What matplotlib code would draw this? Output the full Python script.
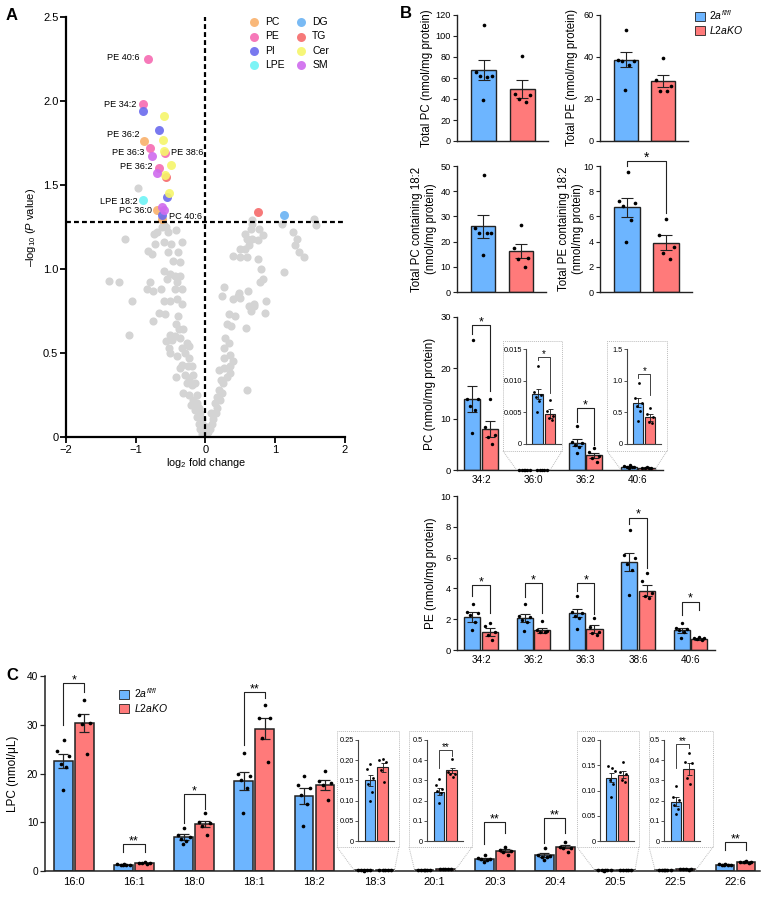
import numpy as np
import matplotlib.pyplot as plt
from matplotlib.lines import Line2D
from matplotlib.patches import Patch, Rectangle

plt.rcParams['font.family'] = ['Liberation Sans', 'DejaVu Sans']
plt.rcParams['mathtext.fontset'] = 'custom'
plt.rcParams['mathtext.rm'] = 'Liberation Sans'
plt.rcParams['mathtext.it'] = 'Liberation Sans:italic'

W, H = 767, 898
BLUE, RED, INK = '#6DB5FF', '#FF7A7A', '#222222'
BOXC = '#BDBDBD'

# ---------------- panel A: volcano ----------------
gray_x = [-0.97, -1.16, -1.38, -1.24, -1.06, -1.09, -0.83, -0.77, -0.72, -0.74, -0.69, -0.63, -0.57, -0.43,
          -0.33, -0.60, -0.50, -0.54, -0.40, -0.46, -0.37, -0.60, -0.51, -0.55, -0.44, -0.37, -0.79, -0.84,
          -0.75, -0.64, -0.41, -0.44, -0.34, -0.60, -0.51, -0.41, -0.34, -0.66, -0.58, -0.39, -0.75, -0.43,
          -0.38, -0.32, -0.51, -0.44, -0.56, -0.48, -0.36, -0.27, -0.24, -0.53, -0.34, -0.51, -0.29, -0.41,
          -0.24, -0.33, -0.25, -0.36, -0.20, -0.29, -0.43, -0.23, -0.18, -0.27, -0.20, -0.15, -0.32, -0.23,
          -0.12, -0.18, -0.12, -0.21, -0.10, -0.15, -0.08, -0.12, -0.05, -0.10, -0.04, -0.08, -0.02, -0.05,
          0.00, 0.03, 0.06, 0.09, 0.02, 0.11, 0.08, 0.15, 0.17, 0.14, 0.21, 0.16, 0.23, 0.19, 0.25, 0.22,
          0.31, 0.20, 0.26, 0.35, 0.35, 0.39, 0.27, 0.35, 0.26, 0.33, 0.28, 0.59, 0.31, 0.37, 0.33, 0.42,
          0.58, 0.39, 0.46, 0.50, 0.48, 0.61, 0.26, 0.24, 0.62, 0.69, 0.65, 0.70, 0.87, 0.85, 0.78, 0.82,
          0.80, 0.75, 0.59, 0.49, 0.40, 0.50, 0.57, 0.62, 0.59, 0.67, 0.75, 0.82, 0.57, 0.65, 0.77, 0.67,
          0.67, 1.10, 1.25, 1.31, 1.28, 1.34, 1.41, 1.13, 1.56, 1.58, -0.60, -0.54, -0.62]
gray_y = [1.48, 1.18, 0.93, 0.92, 0.81, 0.61, 1.11, 1.09, 1.15, 1.21, 1.22, 1.25, 1.25, 1.23,
          1.16, 1.16, 1.15, 1.10, 1.10, 1.05, 1.04, 0.99, 0.97, 0.94, 0.96, 0.96, 0.92, 0.88,
          0.87, 0.88, 0.92, 0.88, 0.88, 0.81, 0.81, 0.82, 0.79, 0.74, 0.73, 0.72, 0.69, 0.67,
          0.64, 0.64, 0.61, 0.60, 0.57, 0.58, 0.59, 0.56, 0.54, 0.53, 0.53, 0.50, 0.50, 0.48,
          0.47, 0.43, 0.42, 0.41, 0.42, 0.37, 0.36, 0.35, 0.37, 0.32, 0.31, 0.32, 0.26, 0.25,
          0.25, 0.22, 0.20, 0.19, 0.17, 0.16, 0.14, 0.12, 0.11, 0.08, 0.07, 0.05, 0.04, 0.02,
          0.02, 0.03, 0.05, 0.08, 0.06, 0.11, 0.14, 0.14, 0.17, 0.20, 0.22, 0.24, 0.26, 0.28, 0.32, 0.34,
          0.36, 0.40, 0.41, 0.38, 0.42, 0.45, 0.47, 0.49, 0.53, 0.56, 0.59, 0.28, 0.67, 0.66, 0.73, 0.72,
          0.65, 0.82, 0.84, 0.83, 0.86, 0.87, 0.89, 0.84, 0.78, 0.78, 0.75, 0.79, 0.81, 0.74, 0.92, 0.94,
          1.00, 1.06, 1.07, 1.07, 1.08, 1.12, 1.12, 1.14, 1.18, 1.18, 1.17, 1.20, 1.21, 1.24, 1.24, 1.27,
          1.29, 1.27, 1.22, 1.18, 1.14, 1.10, 1.07, 0.98, 1.30, 1.26, 1.26, 1.22, 1.29]
hit_x = [-0.82, -0.89, -0.89, -0.59, -0.67, -0.88, -0.61, -0.79, -0.59, -0.58, -0.76, -0.50, -0.67,
         -0.70, -0.58, -0.56, -0.52, -0.55, -0.89, -0.62, -0.69, -0.59, -0.62, -0.63, 0.75, 1.12]
hit_y = [2.25, 1.98, 1.94, 1.91, 1.83, 1.76, 1.77, 1.72, 1.70, 1.69, 1.67, 1.62, 1.60,
         1.57, 1.56, 1.55, 1.45, 1.43, 1.41, 1.37, 1.35, 1.35, 1.32, 1.30, 1.34, 1.32]
hit_class = ['PE', 'PE', 'PI', 'Cer', 'PI', 'PC', 'Cer', 'PE', 'Cer', 'PE', 'SM', 'Cer', 'PE',
             'SM', 'Cer', 'TG', 'Cer', 'PI', 'LPE', 'SM', 'PC', 'SM', 'PI', 'PC', 'TG', 'DG']
class_names = ['PC', 'PE', 'PI', 'LPE', 'DG', 'TG', 'Cer', 'SM']
class_colors = ['#F9B16C', '#F66BB2', '#6B6BEE', '#6EF3F6', '#6BB3F3', '#F66B6B', '#F6F66B', '#CF6BEE']
a_labels = ['PE 40:6', 'PE 34:2', 'PE 36:2', 'PE 36:3', 'PE 38:6', 'PE 36:2', 'LPE 18:2', 'PC 36:0', 'PC 40:6']
a_label_x = [-0.94, -0.99, -0.95, -0.87, -0.50, -0.76, -0.98, -0.76, -0.53]
a_label_y = [2.26, 1.98, 1.80, 1.695, 1.695, 1.61, 1.40, 1.35, 1.31]
a_label_ha = ['right', 'right', 'right', 'right', 'left', 'right', 'right', 'right', 'left']
p_cut = 1.28

# ---------------- panel B: totals ----------------
tot_pc_mean, tot_pc_sem = [67.5, 49.5], [9.5, 8.2]
tot_pc_pts = [[110, 66, 62, 62, 61, 39], [81, 45, 44, 40, 37]]
tot_pe_mean, tot_pe_sem = [38.6, 28.5], [3.6, 3.0]
tot_pe_pts = [[53, 38.5, 38, 38, 36, 24.5], [39.5, 29, 26, 24, 24]]
pc182_mean, pc182_sem = [26.0, 16.2], [4.4, 2.8]
pc182_pts = [[46.5, 25.5, 23.5, 23.5, 23.5, 14.5], [26.5, 17.5, 13.5, 13, 10]]
pe182_mean, pe182_sem = [6.72, 3.9], [0.74, 0.6]
pe182_pts = [[9.5, 7.2, 7.1, 6.8, 5.7, 4.0], [5.8, 4.55, 3.6, 3.1, 2.6]]

# ---------------- panel B: PC species ----------------
pc_cats = ['34:2', '36:0', '36:2', '40:6']
pc_blue_mean = [13.9, 0.0079, 5.35, 0.65]
pc_blue_sem = [2.5, 0.0008, 0.65, 0.07]
pc_red_mean = [8.05, 0.0048, 2.85, 0.42]
pc_red_sem = [1.65, 0.0007, 0.5, 0.05]
pc_blue_pts = [[25.5, 14.0, 13.9, 12.5, 11.8, 7.2], [0.0123, 0.0082, 0.0078, 0.0075, 0.0068, 0.005],
               [8.7, 5.5, 5.2, 5.0, 4.5, 3.4], [0.97, 0.72, 0.65, 0.6, 0.52, 0.37]]
pc_red_pts = [[14, 8.5, 6.8, 6.5, 5.1], [0.0069, 0.0052, 0.0045, 0.0041, 0.0038],
              [4.3, 3.6, 2.8, 2.3, 1.6], [0.57, 0.47, 0.42, 0.35, 0.33]]
pc_brackets = [(0, 28.4, 26.7, 15.4, '*'), (2, 12.1, 9.5, 4.9, '*')]
pc_insets = [1, 3]
pc_inset_ymax = [0.015, 1.5]
pc_inset_ticks = [[0, 0.005, 0.010, 0.015], [0, 0.5, 1.0, 1.5]]
pc_inset_labels = [['0', '0.005', '0.010', '0.015'], ['0', '0.5', '1.0', '1.5']]
pc_inset_brackets = [(0.0137, 0.0133, 0.008, '*'), (1.1, 1.05, 0.77, '*')]

# ---------------- panel B: PE species ----------------
pe_cats = ['34:2', '36:2', '36:3', '38:6', '40:6']
pe_blue_mean = [2.17, 2.06, 2.39, 5.72, 1.27]
pe_blue_sem = [0.33, 0.26, 0.26, 0.6, 0.15]
pe_red_mean = [1.18, 1.27, 1.35, 3.85, 0.71]
pe_red_sem = [0.26, 0.19, 0.26, 0.37, 0.06]
pe_blue_pts = [[3.0, 2.45, 2.4, 2.3, 1.85, 1.3], [3.0, 2.2, 2.15, 1.95, 1.8, 1.25],
               [3.5, 2.45, 2.4, 2.2, 2.05, 1.35], [7.8, 6.2, 6.0, 5.6, 5.2, 3.6],
               [1.75, 1.45, 1.35, 1.3, 1.2, 0.75]]
pe_red_pts = [[1.78, 1.57, 1.2, 0.95, 0.67], [1.9, 1.3, 1.25, 1.2, 1.15], [2.05, 1.48, 1.2, 1.1, 1.0],
              [5.0, 4.5, 3.7, 3.5, 3.4], [0.85, 0.8, 0.75, 0.7, 0.65]]
pe_brackets = [(0, 4.22, 3.5, 2.38, '*'), (1, 4.33, 3.42, 2.38, '*'), (2, 4.33, 3.85, 2.34, '*'),
               (3, 8.6, 8.2, 5.3, '*'), (4, 3.14, 2.27, 2.6, '*')]

# ---------------- panel C: LPC ----------------
c_cats = ['16:0', '16:1', '18:0', '18:1', '18:2', '18:3', '20:1', '20:3', '20:4', '20:5', '22:5', '22:6']
c_blue_mean = [22.6, 1.3, 7.0, 18.5, 15.4, 0.15, 0.245, 2.45, 3.3, 0.125, 0.195, 1.3]
c_blue_sem = [1.45, 0.06, 0.55, 1.8, 1.6, 0.013, 0.018, 0.2, 0.35, 0.009, 0.022, 0.07]
c_red_mean = [30.3, 1.6, 9.7, 29.2, 17.6, 0.182, 0.35, 4.2, 5.0, 0.131, 0.358, 1.8]
c_red_sem = [1.85, 0.06, 0.65, 2.2, 1.0, 0.011, 0.013, 0.4, 0.35, 0.007, 0.03, 0.08]
c_blue_pts = [[26.8, 24.6, 23.6, 22.0, 21.3, 16.6], [1.4, 1.35, 1.3, 1.3, 1.25, 1.2],
              [8.75, 7.4, 7.0, 6.6, 6.2, 5.5], [24.3, 20.0, 19.5, 18.7, 17.0, 12.0],
              [19.5, 17.6, 17.0, 15.6, 13.7, 9.3], [0.19, 0.179, 0.155, 0.142, 0.121, 0.10],
              [0.305, 0.275, 0.258, 0.25, 0.24, 0.188], [3.28, 2.6, 2.5, 2.4, 2.2, 1.8],
              [4.65, 3.28, 3.1, 2.95, 2.8, 2.2], [0.145, 0.148, 0.139, 0.121, 0.113, 0.088],
              [0.27, 0.22, 0.203, 0.18, 0.158, 0.135], [1.45, 1.35, 1.3, 1.25, 1.2, 1.15]]
c_red_pts = [[35.1, 31.9, 30.3, 30.1, 24.0], [1.75, 1.7, 1.6, 1.55, 1.5], [11.8, 10.1, 9.8, 9.2, 7.3],
             [34.05, 31.45, 31.3, 27.2, 22.3], [20.5, 18.5, 18.0, 17.6, 14.6],
             [0.2025, 0.2, 0.196, 0.175, 0.146], [0.408, 0.342, 0.332, 0.33, 0.317],
             [5.0, 4.3, 4.2, 4.0, 3.2], [5.95, 5.0, 4.8, 4.65, 4.0], [0.156, 0.137, 0.133, 0.12, 0.117],
             [0.437, 0.392, 0.387, 0.313, 0.28], [1.95, 1.85, 1.8, 1.75, 1.7]]
c_brackets = [(0, 38.5, 29.9, 36.8, '*'), (1, 5.5, 3.9, 3.9, '**'), (2, 15.8, 9.8, 12.7, '*'),
              (3, 36.65, 25.8, 35.4, '**'), (7, 10.0, 5.5, 7.7, '**'), (8, 10.8, 5.7, 7.7, '**'),
              (11, 5.9, 4.3, 4.3, '**')]
c_insets = [5, 6, 9, 10]
c_inset_ymax = [0.25, 0.5, 0.2, 0.5]
c_inset_ticks = [[0, 0.05, 0.10, 0.15, 0.20, 0.25], [0, 0.1, 0.2, 0.3, 0.4, 0.5],
                 [0, 0.05, 0.10, 0.15, 0.20], [0, 0.1, 0.2, 0.3, 0.4, 0.5]]
c_inset_labels = [['0', '0.05', '0.10', '0.15', '0.20', '0.25'], ['0', '0.1', '0.2', '0.3', '0.4', '0.5'],
                  ['0', '0.05', '0.10', '0.15', '0.20'], ['0', '0.1', '0.2', '0.3', '0.4', '0.5']]
c_inset_brackets = [None, (0.45, 0.363, 0.42, '**'), None, (0.478, 0.36, 0.46, '**')]

fig = plt.figure(figsize=(W / 100, H / 100), dpi=100)


def px_axes(l, r, t, b):
    return fig.add_axes([l / W, 1 - b / H, (r - l) / W, (b - t) / H])


def style(ax, lw=1.0, fs=6.5, tl=3, col=INK):
    for s in ('top', 'right'):
        ax.spines[s].set_visible(False)
    for s in ('left', 'bottom'):
        ax.spines[s].set_linewidth(lw)
        ax.spines[s].set_color(col)
    ax.tick_params(labelsize=fs, length=tl, width=lw * 0.8, color=col, pad=1.5)


def ylabel_at(ax, text, right_px, l, r, fs=8.5):
    ax.set_ylabel(text, fontsize=fs)
    ax.yaxis.set_label_coords((right_px - l) / (r - l), 0.5)


PAT = {5: [0.0, -0.6, 0.6, -0.25, 0.3], 6: [0.05, -0.65, 0.65, -0.3, 0.3, -0.05]}


def pair(ax, x, off, width, means, sems, pts, lw=1.0, cap=3.5, ds=6):
    for k, col in enumerate((BLUE, RED)):
        xc = x + (2 * k - 1) * off
        ax.bar(xc, means[k], width, color=col, edgecolor=INK, linewidth=lw, zorder=2)
        ax.errorbar(xc, means[k], yerr=sems[k], fmt='none', ecolor=INK, elinewidth=lw * 0.8,
                    capsize=cap, capthick=lw * 0.8, zorder=3)
        ax.scatter(xc + np.array(PAT[len(pts[k])]) * width * 0.5, pts[k], s=ds, color='black',
                   linewidths=0, zorder=4, clip_on=False)


def bracket(ax, x1, x2, y, y1, y2, txt, fs=9, lw=0.8):
    ax.plot([x1, x1, x2, x2], [y1, y, y, y2], color=INK, lw=lw, clip_on=False, zorder=5)
    ax.text((x1 + x2) / 2, y, txt, ha='center', va='baseline', fontsize=fs, clip_on=False)


def add_inset(base_ax, cat_x, half, box_px, ax_px, ymax, ticks, tlabels, means, sems, pts, br=None):
    bl, bR, bt, bb = box_px
    fig.add_artist(Rectangle((bl / W, 1 - bb / H), (bR - bl) / W, (bb - bt) / H, transform=fig.transFigure,
                             fill=False, ec=BOXC, lw=0.7, ls=(0, (1, 1)), zorder=0.5))
    inv = fig.transFigure.inverted()
    for xb, xd in ((bl, cat_x - half), (bR, cat_x + half)):
        fx, fy = inv.transform(base_ax.transData.transform((xd, 0)))
        fig.add_artist(Line2D([xb / W, fx], [1 - bb / H, fy], transform=fig.transFigure,
                              color=BOXC, lw=0.7, ls=(0, (1, 1)), zorder=0.5))
    ax = px_axes(*ax_px)
    ax.set_facecolor('none')
    ax.set_zorder(2)
    ax.set_xlim(-0.95, 1.9)
    ax.set_ylim(0, ymax)
    pair(ax, 0.5, 0.5, 0.85, means, sems, pts, lw=0.8, cap=1.8, ds=4)
    style(ax, lw=0.8, fs=5.3, tl=2, col='#444444')
    ax.set_xticks([])
    ax.set_yticks(ticks, tlabels)
    ax.tick_params(pad=1)
    if br is not None:
        bracket(ax, 0, 1, br[0], br[1], br[2], br[3], fs=7, lw=0.6)
    return ax


# ---------------- A ----------------
axA = px_axes(66, 345, 17, 437)
axA.scatter(gray_x, gray_y, s=34, color='#D4D4D4', linewidths=0, zorder=2)
for name, col in zip(class_names, class_colors):
    idx = [i for i, c in enumerate(hit_class) if c == name]
    axA.scatter([hit_x[i] for i in idx], [hit_y[i] for i in idx], s=42, color=col, alpha=0.9,
                linewidths=0, zorder=3, label=name)
axA.axvline(0, color='black', lw=1.6, ls=(0, (2.2, 1.4)), zorder=4)
axA.axhline(p_cut, color='black', lw=1.6, ls=(0, (2.2, 1.4)), zorder=4)
for t, x, y, ha in zip(a_labels, a_label_x, a_label_y, a_label_ha):
    axA.text(x, y, t, ha=ha, va='center', fontsize=6.6, zorder=5)
axA.set_xlim(-2, 2)
axA.set_ylim(0, 2.5)
axA.set_xticks([-2, -1, 0, 1, 2])
axA.set_yticks([0, 0.5, 1.0, 1.5, 2.0, 2.5], ['0', '0.5', '1.0', '1.5', '2.0', '2.5'])
style(axA, lw=1.6, fs=8, tl=4, col='black')
axA.set_xlabel('log$_2$ fold change', fontsize=7.8)
axA.xaxis.set_label_coords(0.5, -0.045)
ylabel_at(axA, '\u2013log$_{10}$ ($P$ value)', 38, 66, 345, fs=8)
axA.legend(ncol=2, loc='upper left', bbox_to_anchor=((249 - 66) / 279, (437 - 17) / 420), frameon=False,
           fontsize=7.5, handlelength=1.0, handletextpad=0.55, columnspacing=1.1, labelspacing=0.42,
           borderpad=0, borderaxespad=0)

# ---------------- B totals ----------------
tot_specs = [
    ((457, 548, 15, 141), tot_pc_mean, tot_pc_sem, tot_pc_pts, 120, 20, 'Total PC (nmol/mg protein)', 433),
    ((600, 688, 15, 141), tot_pe_mean, tot_pe_sem, tot_pe_pts, 60, 20, 'Total PE (nmol/mg protein)', 578),
    ((457, 546, 166, 292), pc182_mean, pc182_sem, pc182_pts, 50, 10,
     'Total PC containing 18:2\n(nmol/mg protein)', 437),
    ((600, 692, 166, 292), pe182_mean, pe182_sem, pe182_pts, 10, 2,
     'Total PE containing 18:2\n(nmol/mg protein)', 584),
]
tot_axes = []
for pos, m, s, p, ymax, step, lab, lx in tot_specs:
    ax = px_axes(*pos)
    pair(ax, 0.5, 0.5, 0.65, m, s, p, lw=1.0, cap=4.3, ds=7)
    ax.set_xlim(-0.69, 1.66)
    ax.set_ylim(0, ymax)
    ax.set_yticks(np.arange(0, ymax + step / 2, step))
    ax.set_xticks([])
    style(ax, lw=1.0, fs=6.6, tl=3)
    ylabel_at(ax, lab, lx, pos[0], pos[1], fs=8.3)
    tot_axes.append(ax)
bracket(tot_axes[3], 0, 1, 10.37, 10.0, 6.25, '*', fs=10)

fig.legend(handles=[Patch(fc=BLUE, ec=INK, lw=0.6), Patch(fc=RED, ec=INK, lw=0.6)],
           labels=['$\\mathit{2a}^{\\mathit{fl/fl}}$', '$\\mathit{L2aKO}$'], loc='upper left',
           bbox_to_anchor=(695 / W, 1 - 8 / H), frameon=False, fontsize=7.5, handlelength=1.0,
           handleheight=0.9, handletextpad=0.35, labelspacing=0.25, borderpad=0, borderaxespad=0)

# ---------------- B PC species ----------------
pcl, pcr, pct, pcb = 457, 663, 317, 470
axPC = px_axes(pcl, pcr, pct, pcb)
axPC.set_xlim(-0.46, 3.48)
axPC.set_ylim(0, 30)
for i in range(len(pc_cats)):
    pair(axPC, i, 0.166, 0.31, [pc_blue_mean[i], pc_red_mean[i]], [pc_blue_sem[i], pc_red_sem[i]],
         [pc_blue_pts[i], pc_red_pts[i]], lw=1.0, cap=3.6, ds=6)
for i, y, y1, y2, t in pc_brackets:
    bracket(axPC, i - 0.166, i + 0.166, y, y1, y2, t)
axPC.set_yticks([0, 10, 20, 30])
axPC.set_xticks(range(len(pc_cats)), pc_cats)
style(axPC, lw=1.0, fs=6.8, tl=3)
axPC.tick_params(axis='x', length=0, pad=3.5, labelsize=7.2)
ylabel_at(axPC, 'PC (nmol/mg protein)', 436, pcl, pcr, fs=8.5)
pc_box = [(503, 562, 341, 451), (607, 667, 341, 451)]
pc_axpos = [(526, 561, 349, 444), (627, 661, 349, 444)]
for j, i in enumerate(pc_insets):
    add_inset(axPC, i, 0.321, pc_box[j], pc_axpos[j], pc_inset_ymax[j], pc_inset_ticks[j],
              pc_inset_labels[j], [pc_blue_mean[i], pc_red_mean[i]], [pc_blue_sem[i], pc_red_sem[i]],
              [pc_blue_pts[i], pc_red_pts[i]], pc_inset_brackets[j])

# ---------------- B PE species ----------------
pel, per, pet, peb = 457, 715, 496, 650
axPE = px_axes(pel, per, pet, peb)
axPE.set_xlim(-0.46, 4.47)
axPE.set_ylim(0, 10)
for i in range(len(pe_cats)):
    pair(axPE, i, 0.166, 0.31, [pe_blue_mean[i], pe_red_mean[i]], [pe_blue_sem[i], pe_red_sem[i]],
         [pe_blue_pts[i], pe_red_pts[i]], lw=1.0, cap=3.6, ds=6)
for i, y, y1, y2, t in pe_brackets:
    bracket(axPE, i - 0.166, i + 0.166, y, y1, y2, t)
axPE.set_yticks([0, 2, 4, 6, 8, 10])
axPE.set_xticks(range(len(pe_cats)), pe_cats)
style(axPE, lw=1.0, fs=6.8, tl=3)
axPE.tick_params(axis='x', length=0, pad=3.5, labelsize=7.2)
ylabel_at(axPE, 'PE (nmol/mg protein)', 437, pel, per, fs=8.5)

# ---------------- C ----------------
cl, cr, ct, cb = 45, 760, 676, 871
axC = px_axes(cl, cr, ct, cb)
axC.set_xlim(-0.48, 11.41)
axC.set_ylim(0, 40)
for i in range(len(c_cats)):
    pair(axC, i, 0.175, 0.31, [c_blue_mean[i], c_red_mean[i]], [c_blue_sem[i], c_red_sem[i]],
         [c_blue_pts[i], c_red_pts[i]], lw=1.1, cap=3.6, ds=7)
for i, y, y1, y2, t in c_brackets:
    bracket(axC, i - 0.175, i + 0.175, y, y1, y2, t)
axC.set_yticks([0, 10, 20, 30, 40])
axC.set_xticks(range(len(c_cats)), c_cats)
style(axC, lw=1.1, fs=7.3, tl=3.5)
axC.tick_params(axis='x', length=0, pad=4, labelsize=8)
ylabel_at(axC, 'LPC (nmol/\u03bcL)', 19, cl, cr, fs=8.5)
c_box = [(337, 399, 731, 847), (409, 472, 731, 847), (577, 639, 731, 847), (649, 713, 731, 847)]
c_axpos = [(358, 394, 740, 841), (427, 463, 740, 841), (600, 634, 740, 841), (664, 700, 740, 841)]
for j, i in enumerate(c_insets):
    add_inset(axC, i, 0.33, c_box[j], c_axpos[j], c_inset_ymax[j], c_inset_ticks[j], c_inset_labels[j],
              [c_blue_mean[i], c_red_mean[i]], [c_blue_sem[i], c_red_sem[i]],
              [c_blue_pts[i], c_red_pts[i]], c_inset_brackets[j])
fig.legend(handles=[Patch(fc=BLUE, ec=INK, lw=0.6), Patch(fc=RED, ec=INK, lw=0.6)],
           labels=['$\\mathit{2a}^{\\mathit{fl/fl}}$', '$\\mathit{L2aKO}$'], loc='upper left',
           bbox_to_anchor=(119 / W, 1 - 686 / H), frameon=False, fontsize=7.5, handlelength=1.0,
           handleheight=0.9, handletextpad=0.45, labelspacing=0.25, borderpad=0, borderaxespad=0)

# panel letters
for t, x, y in (('A', 12, 15), ('B', 406, 14), ('C', 12, 676)):
    fig.text(x / W, 1 - y / H, t, fontsize=12, fontweight='bold', ha='center', va='center')

fig.savefig('out.png', dpi=100, facecolor='white')
